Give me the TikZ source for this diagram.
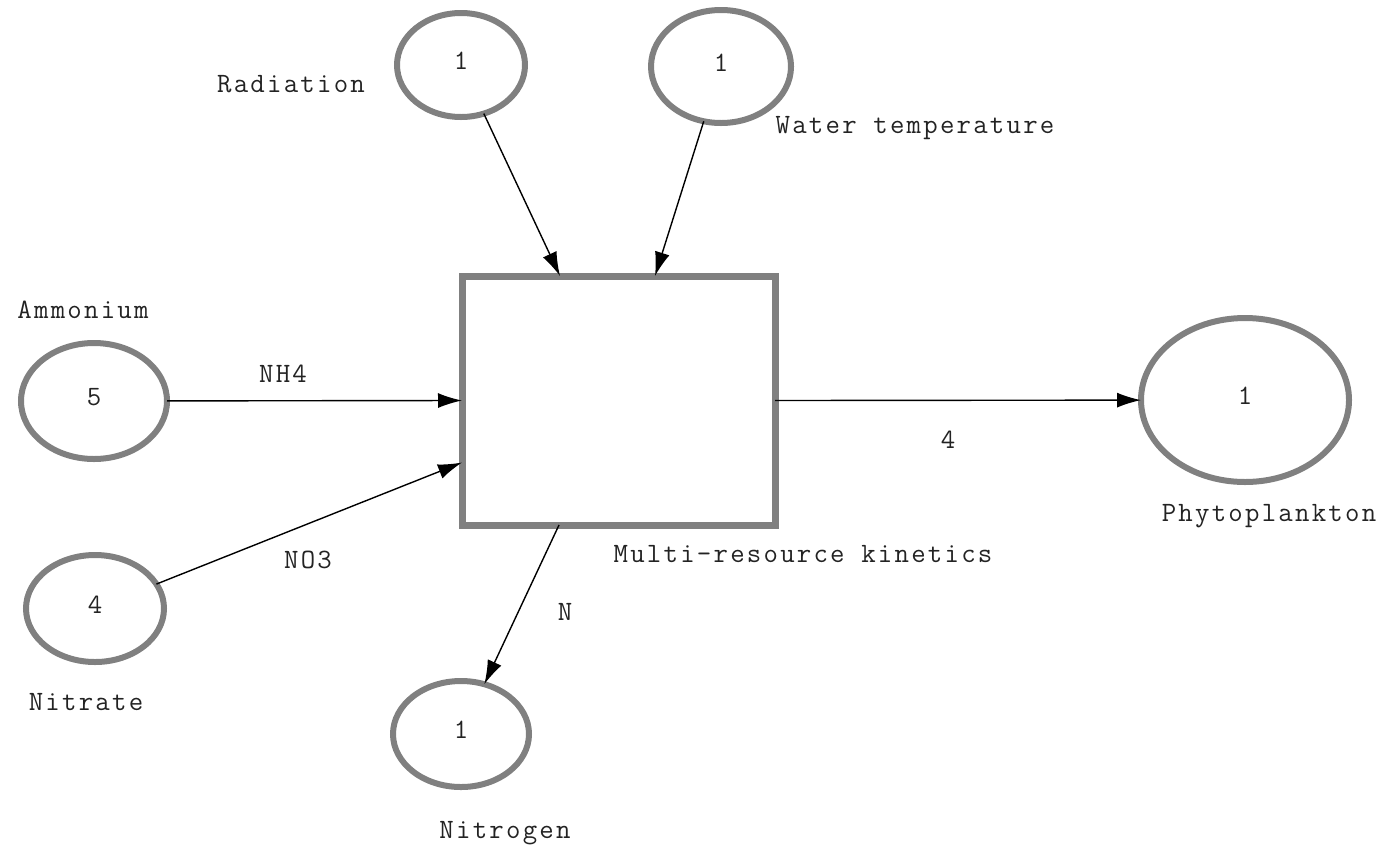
\documentclass[tikz,border=0pt]{standalone}
\usepackage{fontspec}
\usetikzlibrary{shapes.geometric,arrows.meta}
\newfontfamily\lblfont{Latin Modern Mono}[LetterSpace=8.0]
\definecolor{rim}{RGB}{128,128,128}
\definecolor{ink}{RGB}{35,35,35}
\begin{document}
\begin{tikzpicture}[x=1pt,y=-1pt,
  every node/.style={font=\lblfont\fontsize{28}{32}\selectfont, text=ink},
  pool/.style={ellipse, draw=rim, line width=6pt, inner sep=0pt, outer sep=0pt, text depth=8pt},
  proc/.style={rectangle, draw=rim, line width=7pt, inner sep=0pt, outer sep=0pt,
               minimum width=313pt, minimum height=249pt},
  flow/.style={draw=black, line width=1.4pt, -{Latex[length=24pt,width=15pt]}},
  lbl/.style={inner sep=0pt}]
  \useasboundingbox (0,0) rectangle (1386,847);

  % process box
  \node[proc] (kin) at (618.5,400.5) {};
  \node[lbl] (kinlbl) at (803,554) {Multi-resource kinetics};

  % state variables
  \node[pool, minimum width=128pt, minimum height=104pt] (rad) at (461,65) {1};
  \node[pool, minimum width=140pt, minimum height=113pt] (wt) at (721,66.5) {1};
  \node[pool, minimum width=146pt, minimum height=116pt] (amm) at (94,401) {5};
  \node[pool, minimum width=138pt, minimum height=107pt] (nit) at (95,608.5) {4};
  \node[pool, minimum width=208pt, minimum height=164pt] (phy) at (1245,400) {1};
  \node[pool, minimum width=136pt, minimum height=106pt] (ngn) at (461,734) {1};

  % names of state variables
  \node[lbl] (radlbl) at (291,84) {Radiation};
  \node[lbl] (wtlbl) at (915,128) {Water temperature};
  \node[lbl] (ammlbl) at (83,310) {Ammonium};
  \node[lbl] (nitlbl) at (86,702) {Nitrate};
  \node[lbl] (phylbl) at (1269,516) {Phytoplankton};
  \node[lbl] (ngnlbl) at (505,833) {Nitrogen};

  % connections
  \draw[flow] (rad) -- ([xshift=98pt]kin.north west);
  \draw[flow] (wt) -- ([xshift=193pt]kin.north west);
  \draw[flow] (amm) -- (kin.west);
  \draw[flow] (nit) -- ([yshift=-62pt]kin.west);
  \draw[flow] (kin.east) -- (phy);
  \draw[flow] ([xshift=97pt]kin.south west) -- (ngn);

  % connection labels
  \node[lbl] (nh4) at (283,374) {NH4};
  \node[lbl] (no3) at (308,560) {NO3};
  \node[lbl] (out) at (948,440) {4};
  \node[lbl] (nout) at (565,612) {N};
\end{tikzpicture}
\end{document}
